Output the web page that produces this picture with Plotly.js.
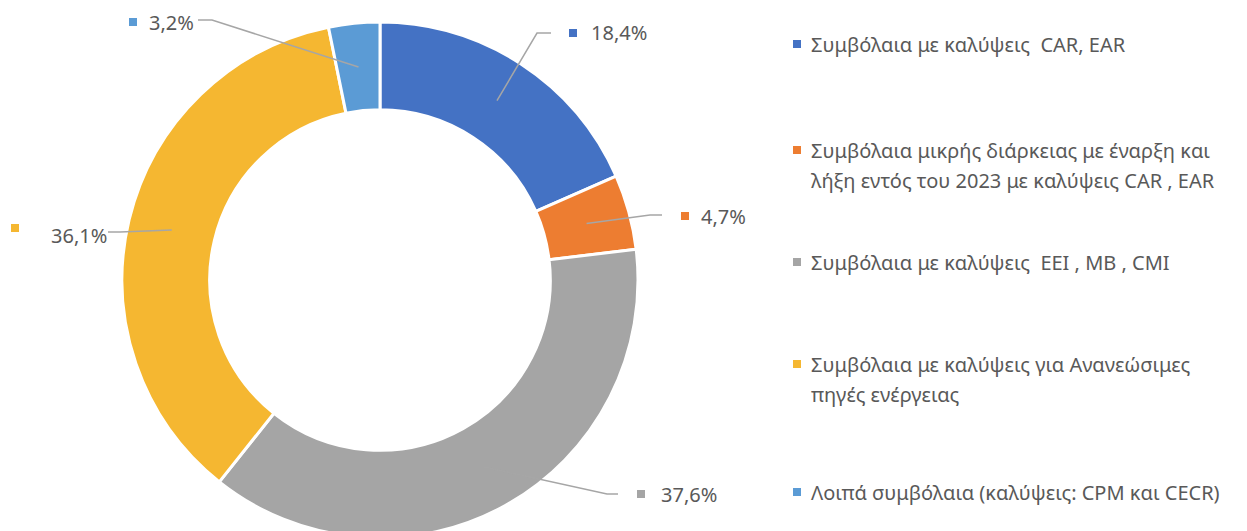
<!DOCTYPE html>
<html>
<head>
<meta charset="utf-8">
<script src="https://cdn.plot.ly/plotly-3.0.1.min.js"></script>
<style>
html,body{margin:0;padding:0;overflow:hidden;background:#fff;}
#chart{width:1247px;height:545px;}
</style>
</head>
<body>
<div id="chart"></div>
<script>
// ---- data ----
const categories = [
  "Συμβόλαια με καλύψεις  CAR, EAR",
  "Συμβόλαια μικρής διάρκειας με έναρξη και<br>λήξη εντός του 2023 με καλύψεις CAR , EAR",
  "Συμβόλαια με καλύψεις  EEI , MB , CMI",
  "Συμβόλαια με καλύψεις για Ανανεώσιμες<br>πηγές ενέργειας",
  "Λοιπά συμβόλαια (καλύψεις: CPM και CECR)"
];
const shares = [18.4, 4.7, 37.6, 36.1, 3.2];
const colors = ["#4472C4", "#ED7D31", "#A5A5A5", "#F5B731", "#5B9BD5"];

// ---- layout constants (pixels) ----
const W = 1247, H = 545;
const cx = 380, cy = 280, R = 258, hole = 0.66;
const X = px => px / W;
const Y = py => 1 - py / H;
const FONT = "Noto Sans, Open Sans, sans-serif";
const TXT = "#595959";
const LINE = "#A6A6A6";
const LEGEND_LINE_GAP = 30;

// label placement (marker centre, text start, text y, leader elbow points)
const labelPos = [
  {mx: 573, my: 33, tx: 589, ty: 33, elbow: [[537, 33], [551, 33]]},
  {mx: 685, my: 216, tx: 699, ty: 216, elbow: [[650, 215], [662, 215]]},
  {mx: 641, my: 494, tx: 659, ty: 494, elbow: [[607, 494], [618, 494]]},
  {mx: 15, my: 228, tx: 49, ty: 235, elbow: [[120, 232], [108, 232]]},
  {mx: 133, my: 22, tx: 147, ty: 22, elbow: [[212, 20], [198, 20]]}
];
const legendPos = [
  {mx: 797, my: 44, tx: 809, ty: 44},
  {mx: 797, my: 150, tx: 809, ty: 150},
  {mx: 797, my: 262, tx: 809, ty: 262},
  {mx: 797, my: 364, tx: 809, ty: 364},
  {mx: 797, my: 492, tx: 809, ty: 492}
];

const total = shares.reduce((a, b) => a + b, 0);
const shapes = [];
const annotations = [];
let cum = 0;
const rm = R * (1 + hole) / 2;
shares.forEach((v, i) => {
  const th = 2 * Math.PI * (cum + v / 2) / total;
  cum += v;
  const sx = cx + rm * Math.sin(th), sy = cy - rm * Math.cos(th);
  const p = labelPos[i];
  const pts = [[sx, sy]].concat(p.elbow);
  shapes.push({
    type: "path", xref: "paper", yref: "paper",
    path: pts.map((q, k) => (k ? "L" : "M") + X(q[0]) + "," + Y(q[1])).join(" "),
    line: {color: LINE, width: 1.5}
  });
  const sq = (mx, my) => ({
    type: "rect", xref: "paper", yref: "paper",
    x0: X(mx - 4), x1: X(mx + 4), y0: Y(my - 4), y1: Y(my + 4),
    fillcolor: colors[i], line: {width: 0}
  });
  shapes.push(sq(p.mx, p.my));
  annotations.push({
    xref: "paper", yref: "paper", x: X(p.tx), y: Y(p.ty),
    xanchor: "left", yanchor: "middle", showarrow: false,
    text: v.toFixed(1).replace(".", ",") + "%",
    font: {family: FONT, size: 20, color: TXT}
  });
  const L = legendPos[i];
  shapes.push(sq(L.mx, L.my));
  categories[i].split("<br>").forEach((line, k) => {
    annotations.push({
      xref: "paper", yref: "paper", x: X(L.tx), y: Y(L.ty + k * LEGEND_LINE_GAP),
      xanchor: "left", yanchor: "middle", align: "left", showarrow: false,
      text: line,
      font: {family: FONT, size: 20, color: TXT}
    });
  });
});

const trace = {
  type: "pie",
  values: shares,
  labels: categories,
  sort: false,
  direction: "clockwise",
  rotation: 0,
  hole: hole,
  textinfo: "none",
  hoverinfo: "none",
  showlegend: false,
  marker: {colors: colors, line: {color: "#FFFFFF", width: 3}},
  domain: {x: [X(cx - R), X(cx + R)], y: [Y(cy + R), Y(cy - R)]}
};

Plotly.newPlot("chart", [trace], {
  width: W, height: H,
  margin: {l: 0, r: 0, t: 0, b: 0},
  paper_bgcolor: "#FFFFFF",
  showlegend: false,
  shapes: shapes,
  annotations: annotations
}, {staticPlot: true});
</script>
</body>
</html>
